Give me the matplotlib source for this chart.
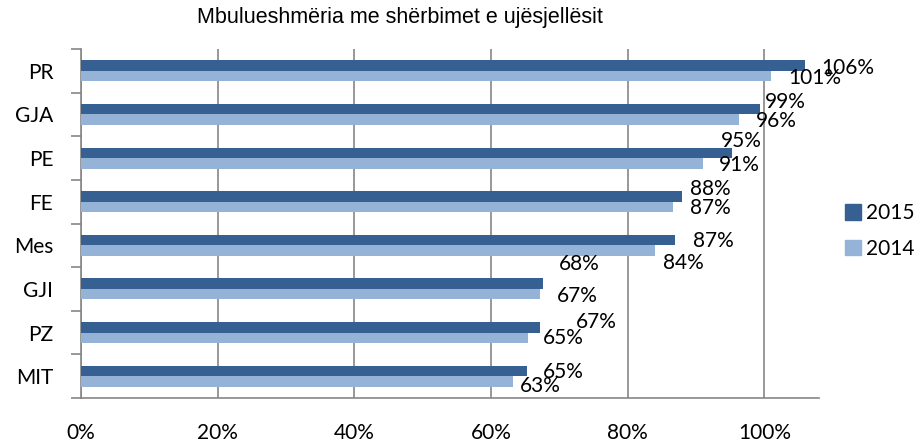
import numpy as np
import matplotlib.pyplot as plt
from matplotlib.patches import Patch
from matplotlib.ticker import FixedLocator

plt.rcParams['font.family'] = ['Lato', 'DejaVu Sans']

# data
categories = ['PR', 'GJA', 'PE', 'FE', 'Mes', 'GJI', 'PZ', 'MIT']
val_2015 = [1.06, 0.994, 0.953, 0.88, 0.87, 0.676, 0.672, 0.653]
val_2014 = [1.01, 0.963, 0.91, 0.867, 0.84, 0.672, 0.654, 0.632]
xticks = [0, 0.2, 0.4, 0.6, 0.8, 1.0]
xtick_labels = ['0%', '20%', '40%', '60%', '80%', '100%']

dark = '#376092'
light = '#95b3d7'
grey = '#868686'
fs = 15

# label nudges in pixels (the labels were moved by hand in the original)
off_2015 = [(16, -2), (5, 7), (-11, 12), (8, 7), (18, -1), (16, 20), (36, 5), (16, -1)]
off_2014 = [(17, -2), (17, -1), (16, -2), (17, -1), (8, -12), (17, -2), (15, 0), (7, -5)]

fig = plt.figure(figsize=(9.23, 4.44), dpi=100)
ax = fig.add_axes([81/923, 46/444, 738/923, 349/444])

y = np.arange(len(categories))
h = 0.24
ax.barh(y - h/2, val_2015, height=h, color=dark, zorder=3)
ax.barh(y + h/2, val_2014, height=h, color=light, zorder=3)

for i in range(len(categories)):
    ax.annotate(f'{val_2015[i]*100:.0f}%', (val_2015[i], y[i] - h/2),
                xytext=off_2015[i], textcoords='offset pixels',
                ha='left', va='center', fontsize=fs, zorder=4)
    ax.annotate(f'{val_2014[i]*100:.0f}%', (val_2014[i], y[i] + h/2),
                xytext=off_2014[i], textcoords='offset pixels',
                ha='left', va='center', fontsize=fs, zorder=4)

ax.set_xlim(0, 1.08)
ax.set_ylim(len(categories) - 0.5, -0.5)

ax.set_xticks(xticks)
ax.set_xticklabels(xtick_labels, fontsize=fs)
ax.tick_params(axis='x', length=0, pad=18)
ax.set_yticks(y)
ax.set_yticklabels(categories, fontsize=fs)
ax.tick_params(axis='y', which='major', length=0, pad=20)
ax.yaxis.set_minor_locator(FixedLocator(np.arange(-0.5, len(categories), 1)))
ax.tick_params(axis='y', which='minor', length=7, width=1.2, color=grey, direction='out')

ax.grid(axis='x', color=grey, linewidth=1.2, zorder=0)
for s in ['top', 'right']:
    ax.spines[s].set_visible(False)
for s in ['left', 'bottom']:
    ax.spines[s].set_color(grey)
    ax.spines[s].set_linewidth(1.2)

fig.text(400/923, 1 - 17/444, 'Mbulueshmëria me shërbimet e ujësjellësit',
         ha='center', va='center', fontsize=15.5,
         family=['Liberation Sans Narrow', 'Liberation Sans'])

handles = [Patch(color=dark), Patch(color=light)]
fig.legend(handles, ['2015', '2014'], loc='center left',
           bbox_to_anchor=(845/923, 1 - 231/444), frameon=False,
           fontsize=fs, handlelength=0.75, handleheight=0.75,
           handletextpad=0.25, labelspacing=0.75, borderpad=0,
           borderaxespad=0)

fig.savefig('out.png', dpi=100)
